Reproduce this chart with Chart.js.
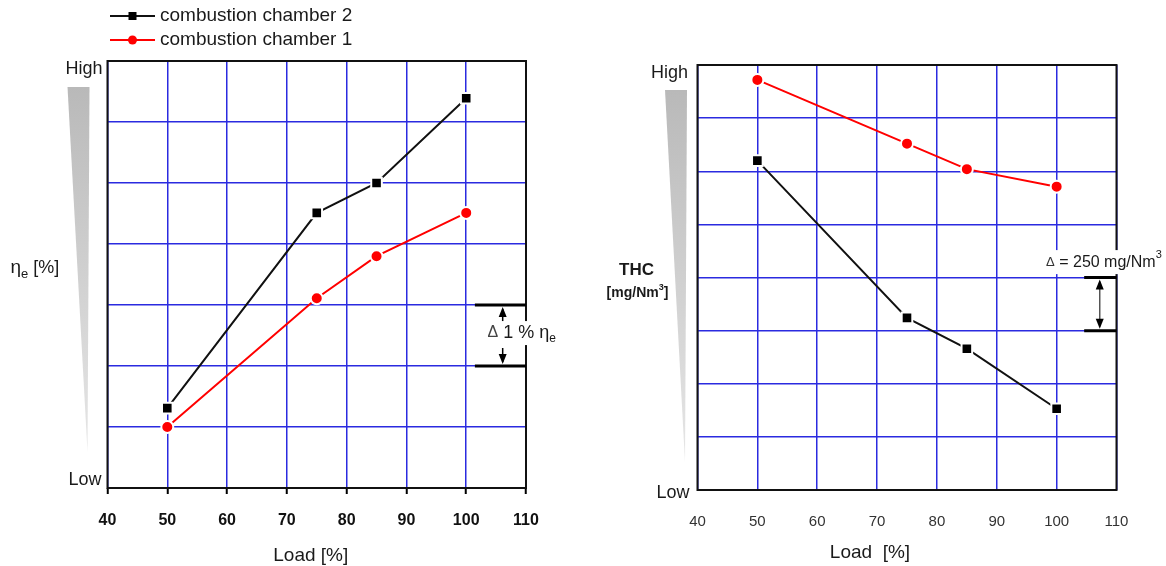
<!DOCTYPE html>
<html>
<head>
<meta charset="utf-8">
<script src="https://cdn.jsdelivr.net/npm/chart.js@4.4.1/dist/chart.umd.min.js"></script>
<style>
  html, body { margin: 0; padding: 0; background: #fff; }
  #wrap { position: relative; width: 1166px; height: 566px; }
  .box { position: absolute; top: 0; width: 583px; height: 566px; }
</style>
</head>
<body>
<div id="wrap">
  <div class="box" style="left:0"><canvas id="effChart" width="583" height="566"></canvas></div>
  <div class="box" style="left:583px"><canvas id="thcChart" width="583" height="566"></canvas></div>
</div>
<script>
// data (y in grid units, 0 = Low)
const loads = [50, 75, 85, 100];
const loadTicks = [40, 50, 60, 70, 80, 90, 100, 110];
const seriesNames = ['combustion chamber 2', 'combustion chamber 1'];
const effChamber2 = [1.31, 4.51, 5.0, 6.39];
const effChamber1 = [1.0, 3.11, 3.8, 4.51];
const thcChamber2 = [6.2, 3.24, 2.66, 1.53];
const thcChamber1 = [7.72, 6.52, 6.04, 5.71];

const FONT = "'Liberation Sans', Arial, sans-serif";
const GRID_BLUE = '#2b2be0';

function pairs(ys) {
  return loads.map((x, i) => ({ x: x, y: ys[i] }));
}

// draw a run of text pieces (for subscripts / superscripts)
function drawRich(ctx, parts, x, y, align) {
  let total = 0;
  parts.forEach(p => { ctx.font = p.font; p.w = ctx.measureText(p.t).width; total += p.w; });
  let cx = align === 'center' ? x - total / 2 : (align === 'right' ? x - total : x);
  parts.forEach(p => {
    ctx.font = p.font;
    ctx.fillStyle = p.color || '#1a1a1a';
    ctx.textAlign = 'left';
    ctx.textBaseline = 'middle';
    ctx.fillText(p.t, cx, y + (p.dy || 0));
    cx += p.w;
  });
  return total;
}

function arrowHead(ctx, x, y, dir) {
  // dir -1 points up, 1 points down; (x, y) is the tip
  ctx.beginPath();
  ctx.moveTo(x, y);
  ctx.lineTo(x - 4, y - dir * 10);
  ctx.lineTo(x + 4, y - dir * 10);
  ctx.closePath();
  ctx.fill();
}

const decor = {
  id: 'decor',
  beforeDatasetsDraw(chart, args, o) {
    const { ctx, chartArea: a } = chart;
    // grey wedge next to the y axis
    const w = o.wedge;
    const g = ctx.createLinearGradient(0, a.top + w.top, 0, a.bottom - w.bottom);
    g.addColorStop(0, '#b9b9b9');
    g.addColorStop(1, '#e6e6e6');
    ctx.save();
    ctx.fillStyle = g;
    ctx.beginPath();
    ctx.moveTo(a.left + w.x0, a.top + w.top);
    ctx.lineTo(a.left + w.x1, a.top + w.top);
    ctx.lineTo(a.left + w.tip, a.bottom - w.bottom);
    ctx.closePath();
    ctx.fill();
    // frame
    ctx.strokeStyle = '#111';
    ctx.lineWidth = 2;
    ctx.strokeRect(a.left, a.top, a.width, a.height);
    ctx.restore();
  },
  afterDatasetsDraw(chart, args, o) {
    const { ctx, chartArea: a, scales } = chart;
    const xs = scales.x, ys = scales.y;
    ctx.save();

    // High / Low
    ctx.font = '18px ' + FONT;
    ctx.fillStyle = '#1a1a1a';
    ctx.textAlign = 'right';
    ctx.textBaseline = 'middle';
    ctx.fillText('High', a.left + o.high[0], a.top + o.high[1]);
    ctx.fillText('Low', a.left + o.low[0], a.bottom + o.low[1]);

    // y title
    o.yTitle.forEach(line => drawRich(ctx, line.parts, a.left + line.dx, line.y, line.align));

    // x title
    ctx.font = '19px ' + FONT;
    ctx.fillStyle = '#1a1a1a';
    ctx.textAlign = 'center';
    ctx.fillText(o.xTitle.text, (a.left + a.right) / 2 + o.xTitle.dx, o.xTitle.y);

    // delta annotation
    const d = o.delta;
    const yTop = ys.getPixelForValue(d.hi), yBot = ys.getPixelForValue(d.lo);
    const xStart = xs.getPixelForValue(d.xStart), xArr = xs.getPixelForValue(d.xArrow);
    ctx.strokeStyle = '#000';
    ctx.lineWidth = 3;
    ctx.beginPath();
    ctx.moveTo(xStart, yTop); ctx.lineTo(a.right, yTop);
    ctx.moveTo(xStart, yBot); ctx.lineTo(a.right, yBot);
    ctx.stroke();
    ctx.fillStyle = '#000';
    ctx.strokeStyle = d.split ? '#000' : '#555';
    ctx.lineWidth = 1.5;
    ctx.beginPath();
    if (d.split) {
      ctx.moveTo(xArr, yTop + 4); ctx.lineTo(xArr, yTop + 18);
      ctx.moveTo(xArr, yBot - 18); ctx.lineTo(xArr, yBot - 4);
    } else {
      ctx.moveTo(xArr, yTop + 4); ctx.lineTo(xArr, yBot - 4);
    }
    ctx.stroke();
    arrowHead(ctx, xArr, yTop + 2, -1);
    arrowHead(ctx, xArr, yBot - 2, 1);

    // label with white background (covers the frame)
    const lx = xs.getPixelForValue(d.labelX), ly = ys.getPixelForValue(d.labelY);
    let total = 0;
    d.parts.forEach(p => { ctx.font = p.font; total += ctx.measureText(p.t).width; });
    ctx.fillStyle = '#fff';
    ctx.fillRect(lx - total / 2 - 2, ly - 12, total + 4, 24);
    drawRich(ctx, d.parts, lx, ly, 'center');

    // legend (left chart only)
    if (o.legend) {
      chart.data.datasets.forEach((ds, i) => {
        const y = o.legend.y + i * o.legend.gap;
        const x0 = o.legend.x;
        ctx.strokeStyle = ds.borderColor;
        ctx.lineWidth = 2;
        ctx.beginPath();
        ctx.moveTo(x0, y); ctx.lineTo(x0 + 45, y);
        ctx.stroke();
        ctx.fillStyle = ds.pointBackgroundColor;
        if (ds.pointStyle === 'rect') {
          ctx.fillRect(x0 + 22.5 - 4, y - 4, 8, 8);
        } else {
          ctx.beginPath();
          ctx.arc(x0 + 22.5, y, 4.5, 0, Math.PI * 2);
          ctx.fill();
        }
        ctx.font = '19px ' + FONT;
        ctx.fillStyle = '#1a1a1a';
        ctx.textAlign = 'left';
        ctx.textBaseline = 'middle';
        ctx.fillText(ds.label, x0 + 50, y);
      });
    }
    ctx.restore();
  }
};

function datasets(ys2, ys1) {
  return [{
    label: seriesNames[0],
    data: pairs(ys2),
    borderColor: '#111',
    borderWidth: 2,
    pointStyle: 'rect',
    pointRadius: 7.5,
    pointBackgroundColor: '#000',
    pointBorderColor: '#fff',
    pointBorderWidth: 2,
    tension: 0
  }, {
    label: seriesNames[1],
    data: pairs(ys1),
    borderColor: '#f00',
    borderWidth: 2,
    pointStyle: 'circle',
    pointRadius: 6,
    pointBackgroundColor: '#f00',
    pointBorderColor: '#fff',
    pointBorderWidth: 2,
    tension: 0
  }];
}

function makeChart(id, cfg) {
  return new Chart(document.getElementById(id), {
    type: 'line',
    data: { datasets: datasets(cfg.s2, cfg.s1) },
    options: {
      responsive: false,
      animation: false,
      layout: { padding: cfg.padding },
      scales: {
        x: {
          type: 'linear',
          min: 40, max: 110,
          afterBuildTicks: s => { s.ticks = loadTicks.map(v => ({ value: v })); },
          afterFit: s => { s.height = cfg.xHeight; },
          grid: {
            color: GRID_BLUE, lineWidth: 1.5,
            drawTicks: cfg.drawTicks, tickLength: 6, tickColor: '#000', tickWidth: 2
          },
          border: { display: false },
          ticks: {
            padding: cfg.tickPad,
            color: cfg.tickColor,
            font: { family: FONT, size: cfg.tickSize, weight: cfg.tickWeight }
          }
        },
        y: {
          min: 0, max: cfg.yMax,
          afterFit: s => { s.width = 0; },
          grid: { color: GRID_BLUE, lineWidth: 1.5, drawTicks: false },
          border: { display: false },
          ticks: { display: false, stepSize: 1 }
        }
      },
      plugins: {
        legend: { display: false },
        tooltip: { enabled: false },
        decor: cfg.decor
      }
    },
    plugins: [decor]
  });
}

makeChart('effChart', {
  s2: effChamber2, s1: effChamber1, yMax: 7,
  padding: { left: 107.5, top: 61, right: 57, bottom: 0 },
  xHeight: 78, drawTicks: true, tickPad: 17, tickColor: '#111', tickSize: 16, tickWeight: 'bold',
  decor: {
    wedge: { x0: -40, x1: -18, top: 26, tip: -20, bottom: 36 },
    high: [-5, 8], low: [-6, -8],
    yTitle: [{ dx: -97, y: 268, align: 'left', parts: [
      { t: '\u03b7', font: '19px ' + FONT },
      { t: 'e', font: '13px ' + FONT, dy: 6 },
      { t: ' [%]', font: '18px ' + FONT }
    ] }],
    xTitle: { text: 'Load [%]', dx: -6, y: 556 },
    delta: {
      lo: 2, hi: 3, xStart: 101.45, xArrow: 106.1, split: true,
      labelX: 109.3, labelY: 2.54,
      parts: [
        { t: '\u0394', font: '16px ' + FONT, color: '#444' },
        { t: ' 1 % ', font: '18px ' + FONT },
        { t: '\u03b7', font: '18px ' + FONT },
        { t: 'e', font: '12px ' + FONT, dy: 6 }
      ]
    },
    legend: { x: 110, y: 16, gap: 24 }
  }
});

makeChart('thcChart', {
  s2: thcChamber2, s1: thcChamber1, yMax: 8,
  padding: { left: 114.5, top: 65, right: 49.5, bottom: 0 },
  xHeight: 76, drawTicks: false, tickPad: 23, tickColor: '#333', tickSize: 15, tickWeight: 'normal',
  decor: {
    wedge: { x0: -32.5, x1: -10.5, top: 25, tip: -12.5, bottom: 28 },
    high: [-9.5, 8], low: [-8, 3],
    yTitle: [
      { dx: -61, y: 270, align: 'center', parts: [{ t: 'THC', font: 'bold 17px ' + FONT }] },
      { dx: -60, y: 293, align: 'center', parts: [
        { t: '[mg/Nm', font: 'bold 14px ' + FONT },
        { t: '3', font: 'bold 9px ' + FONT, dy: -5 },
        { t: ']', font: 'bold 14px ' + FONT }
      ] }
    ],
    xTitle: { text: 'Load  [%]', dx: -37, y: 553 },
    delta: {
      lo: 3, hi: 4, xStart: 104.6, xArrow: 107.2, split: false,
      labelX: 107.9, labelY: 4.29,
      parts: [
        { t: '\u0394', font: '13px ' + FONT, color: '#333' },
        { t: ' = 250 mg/Nm', font: '16px ' + FONT },
        { t: '3', font: '11px ' + FONT, dy: -7 }
      ]
    }
  }
});
</script>
</body>
</html>
